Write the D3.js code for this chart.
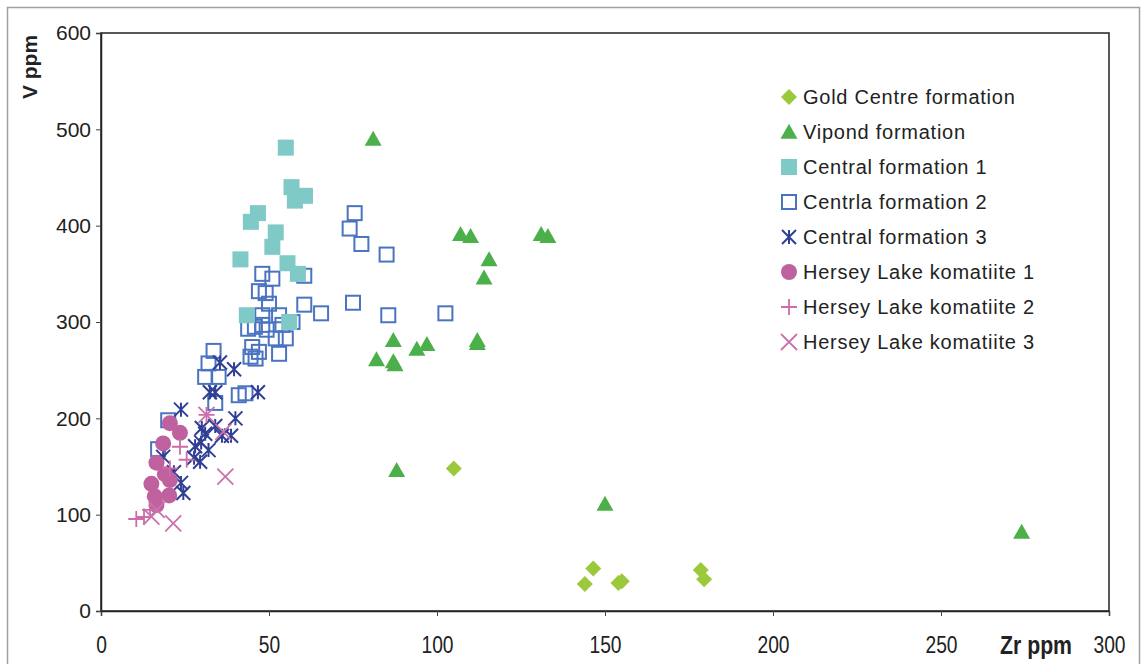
<!DOCTYPE html>
<html><head><meta charset="utf-8">
<script src="https://cdn.jsdelivr.net/npm/d3@7"></script>
<style>body{margin:0;background:#fff}svg{display:block}</style>
</head><body>
<script>
// ---- data ----
const seriesNames = ["Gold Centre formation","Vipond formation","Central formation 1","Centrla formation 2","Central formation 3","Hersey Lake komatiite 1","Hersey Lake komatiite 2","Hersey Lake komatiite 3"];
const goldCentre = [[105,148],[146.5,44],[144,28],[154,29],[155,31],[178.5,42.5],[179.5,33]];
const vipond = [[81,490],[107,391],[110,389],[131,391],[133,389],[115.5,365],[114,346],[87,281],[82,261],[87.5,256],[87,259],[94,272],[97,277],[112,281],[112,278],[88,146],[150,111],[274,82]];
const central1 = [[55,481],[56.7,440],[60.7,431],[57.7,426],[46.7,413],[44.6,404],[52,393],[51,378],[41.5,365],[55.5,361],[58.6,350],[43.4,307],[56,300]];
const central2 = [[75.5,413],[74,397],[77.5,381],[85,370],[75,320],[85.5,307],[102.5,309],[48,350],[51,345],[60.5,348],[47,332],[49,330],[50,319],[60.5,318],[65.5,309],[48,307],[53,307],[43.8,293],[45.8,295],[48,297],[49.3,292],[54,297],[57,300],[52,283],[55,283],[47,269],[53,267],[33.5,270],[46,262],[32,257],[31,243],[35,243],[34,216],[41,224],[43,226],[44.5,264],[45,274],[20,198],[17,168]];
const central3 = [[23.8,209],[35.4,258],[39.6,251],[32.4,227],[34,227],[46.7,227],[40,200],[30,190],[34,192],[31,184],[36,182],[38.7,182],[29.8,175],[28,171],[32,167],[27.7,159],[29.5,155],[18.5,160],[21.7,144],[23.8,133],[24.5,122.5]];
const hersey1 = [[20.5,195],[23.5,185],[18.5,174],[16.5,154],[19,142],[15,132],[20.5,136],[16,119],[20.3,120],[16.5,110]];
const hersey2 = [[23.5,170.5],[25.5,157],[20.5,148],[10.5,95.5],[12.8,97.6],[14.6,105],[31.4,203.5]];
const hersey3 = [[36.4,186],[37,139.5],[21.5,91],[16.6,105],[15,98],[31.4,203.5]];
const xTicks = [0,50,100,150,200,250,300];
const yTicks = [0,100,200,300,400,500,600];

const W = 1143, H = 664;
const M = {left:101, right:1109, top:33, bottom:611};
const colors = ["#9cc93b","#4cb04a","#7fc9c6","#4a73c0","#2f3f95","#c0619f","#cc6ca8","#c972ad"];
const shapes = ["diamond","triangle","fsquare","osquare","asterisk","circle","plus","cross"];
const data = [goldCentre,vipond,central1,central2,central3,hersey1,hersey2,hersey3];

const svg = d3.select("body").append("svg").attr("width",W).attr("height",H);
// outer frame
svg.append("rect").attr("x",7.5).attr("y",7.5).attr("width",1132).attr("height",670)
  .attr("fill","none").attr("stroke","#a0a0a0").attr("stroke-width",1.5);

const x = d3.scaleLinear().domain([0,300]).range([M.left,M.right]);
const y = d3.scaleLinear().domain([0,600]).range([M.bottom,M.top]);

// plot border
svg.append("rect").attr("x",M.left).attr("y",M.top).attr("width",M.right-M.left).attr("height",M.bottom-M.top)
  .attr("fill","none").attr("stroke","#222").attr("stroke-width",1.5);

const yAxis = svg.append("g").attr("transform",`translate(${M.left},0)`)
  .call(d3.axisLeft(y).tickValues(yTicks).tickSize(5).tickPadding(5).tickFormat(d3.format("d")));
yAxis.select(".domain").attr("stroke","#222").attr("stroke-width",1.5);
yAxis.selectAll("line").attr("stroke","#444");
yAxis.selectAll("text").attr("font-family","Liberation Sans, Arial, sans-serif").attr("font-size",21).attr("fill","#222");

const xAxis = svg.append("g").attr("transform",`translate(0,${M.bottom})`)
  .call(d3.axisBottom(x).tickValues(xTicks).tickSize(5).tickPadding(20).tickFormat(d3.format("d")));
xAxis.select(".domain").attr("stroke","#222").attr("stroke-width",1.5);
xAxis.selectAll("line").attr("stroke","#444");
xAxis.selectAll("text").attr("font-family","Liberation Sans, Arial, sans-serif").attr("font-size",24).attr("fill","#222")
  .attr("transform","scale(0.8,1)");

svg.append("text").attr("transform","translate(1036,654) scale(0.85,1)").attr("text-anchor","middle")
  .attr("font-family","Liberation Sans, Arial, sans-serif").attr("font-weight","bold").attr("font-size",25).attr("fill","#222").text("Zr ppm");
svg.append("text").attr("transform","translate(37,67) rotate(-90)").attr("text-anchor","middle")
  .attr("font-family","Liberation Sans, Arial, sans-serif").attr("font-weight","bold").attr("font-size",21).attr("fill","#222").text("V ppm");

function drawMarker(g, shape, color, cx, cy, s) {
  s = s || 1;
  if (shape==="diamond") {
    const r=8*s; g.append("path").attr("d",`M${cx},${cy-r}L${cx+r},${cy}L${cx},${cy+r}L${cx-r},${cy}Z`).attr("fill",color);
  } else if (shape==="triangle") {
    const w=8.5*s,h=15*s; g.append("path").attr("d",`M${cx},${cy-h*0.55}L${cx+w},${cy+h*0.45}L${cx-w},${cy+h*0.45}Z`).attr("fill",color);
  } else if (shape==="fsquare") {
    const r=8*s; g.append("rect").attr("x",cx-r).attr("y",cy-r).attr("width",2*r).attr("height",2*r).attr("fill",color);
  } else if (shape==="osquare") {
    const r=7*s; g.append("rect").attr("x",cx-r).attr("y",cy-r).attr("width",2*r).attr("height",2*r).attr("fill","none").attr("stroke",color).attr("stroke-width",2);
  } else if (shape==="asterisk") {
    const r=7*s;
    g.append("path").attr("d",`M${cx-r},${cy-r}L${cx+r},${cy+r}M${cx-r},${cy+r}L${cx+r},${cy-r}M${cx},${cy-r}L${cx},${cy+r}`).attr("stroke",color).attr("stroke-width",2).attr("fill","none");
  } else if (shape==="circle") {
    g.append("circle").attr("cx",cx).attr("cy",cy).attr("r",8*s).attr("fill",color);
  } else if (shape==="plus") {
    const r=8*s; g.append("path").attr("d",`M${cx-r},${cy}L${cx+r},${cy}M${cx},${cy-r}L${cx},${cy+r}`).attr("stroke",color).attr("stroke-width",1.8).attr("fill","none");
  } else if (shape==="cross") {
    const r=8*s; g.append("path").attr("d",`M${cx-r},${cy-r}L${cx+r},${cy+r}M${cx-r},${cy+r}L${cx+r},${cy-r}`).attr("stroke",color).attr("stroke-width",1.8).attr("fill","none");
  }
}

const plot = svg.append("g");
const order = [3,2,0,1,4,5,6,7];
order.forEach(i => {
  const g = plot.append("g");
  data[i].forEach(d => drawMarker(g, shapes[i], colors[i], x(d[0]), y(d[1])));
});

// legend
const lg = svg.append("g");
seriesNames.forEach((n,i) => {
  const cy = 97 + i*35;
  drawMarker(lg, shapes[i], colors[i], 789, cy, 1);
  lg.append("text").attr("x",803).attr("y",cy+7).attr("font-family","Liberation Sans, Arial, sans-serif")
    .attr("font-size",20).attr("letter-spacing",0.75).attr("fill","#222").text(n);
});
</script>
</body></html>
